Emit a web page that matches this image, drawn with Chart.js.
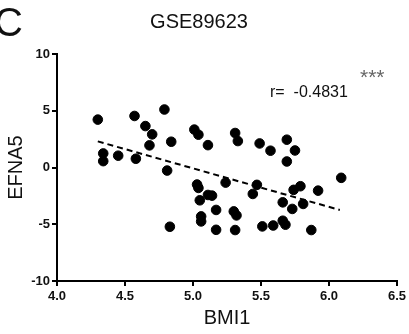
<!DOCTYPE html>
<html>
<head>
<meta charset="utf-8">
<script src="https://cdn.jsdelivr.net/npm/chart.js@4.4.0/dist/chart.umd.min.js"></script>
<style>
  html, body { margin: 0; padding: 0; background: #fff; }
  #wrap { width: 409px; height: 334px; }
</style>
</head>
<body>
<div id="wrap"><canvas id="chart" width="409" height="334"></canvas></div>
<script>
// ==========================
// Data
// ==========================
const bmi1 = [
  4.30, 4.57, 4.79, 4.65, 4.70, 4.84, 4.68, 4.34, 4.34, 4.45,
  4.58, 4.81, 4.83, 5.01, 5.04, 5.11, 5.31, 5.33, 5.49, 5.57,
  5.69, 5.75, 5.69, 6.09, 5.24, 5.47, 5.44, 5.03, 5.04, 5.05,
  5.11, 5.14, 5.17, 5.06, 5.06, 5.30, 5.32, 5.17, 5.31, 5.51,
  5.59, 5.66, 5.68, 5.66, 5.74, 5.79, 5.92, 5.73, 5.81, 5.87
];
const efna5 = [
  4.22, 4.54, 5.11, 3.65, 2.92, 2.27, 1.95, 1.24, 0.56, 1.04,
  0.77, -0.27, -5.22, 3.34, 2.89, 1.97, 3.04, 2.33, 2.12, 1.48,
  2.45, 1.50, 0.53, -0.91, -1.33, -1.53, -2.33, -1.50, -1.80, -2.89,
  -2.42, -2.48, -3.74, -4.31, -4.75, -3.87, -4.22, -5.49, -5.51, -5.19,
  -5.11, -4.69, -5.04, -3.07, -1.97, -1.65, -2.04, -3.65, -3.21, -5.51
];

// regression line end points
const fitX = [4.30, 6.08];
const fitY = [2.30, -3.74];

const yTicks = [-10, -5, 0, 5, 10];
const xTicks = [4.0, 4.5, 5.0, 5.5, 6.0, 6.5];

const points = bmi1.map((x, i) => ({ x: x, y: efna5[i] }));
const fitPoints = fitX.map((x, i) => ({ x: x, y: fitY[i] }));

// ==========================
// Extra text (panel letter, r value)
// ==========================
const extraText = {
  id: "extraText",
  afterDraw(chart) {
    const ctx = chart.ctx;
    ctx.save();
    ctx.fillStyle = "#111";
    ctx.textBaseline = "alphabetic";
    ctx.textAlign = "left";
    ctx.font = "40px 'Liberation Sans', Arial, sans-serif";
    ctx.fillText("C", -6, 36);
    ctx.font = "16px 'Liberation Sans', Arial, sans-serif";
    ctx.fillText("r=  -0.4831", 270, 97);
    ctx.fillStyle = "#666";
    ctx.font = "21px 'Liberation Sans', Arial, sans-serif";
    ctx.fillText("***", 360, 84);
    ctx.restore();
  }
};

const tickFont = { family: "'Liberation Sans', Arial, sans-serif", size: 13, weight: "bold" };
const titleFont = { family: "'Liberation Sans', Arial, sans-serif", size: 20 };

new Chart(document.getElementById("chart"), {
  type: "scatter",
  data: {
    datasets: [
      {
        label: "samples",
        data: points,
        backgroundColor: "#000",
        borderColor: "#000",
        pointRadius: 4.8,
        pointHoverRadius: 4.8
      },
      {
        type: "line",
        label: "fit",
        data: fitPoints,
        borderColor: "#000",
        borderWidth: 2,
        borderDash: [6, 4],
        pointRadius: 0,
        fill: false
      }
    ]
  },
  options: {
    responsive: false,
    animation: false,
    events: [],
    layout: { padding: { left: 0, right: 11, top: 0, bottom: 0 } },
    plugins: {
      legend: { display: false },
      tooltip: { enabled: false },
      title: {
        display: true,
        text: "GSE89623",
        color: "#111",
        font: { family: "'Liberation Sans', Arial, sans-serif", size: 20, weight: "normal" },
        padding: { top: 10, bottom: 20 }
      }
    },
    scales: {
      x: {
        type: "linear",
        min: 4,
        max: 6.5,
        afterBuildTicks: s => { s.ticks = xTicks.map(v => ({ value: v })); },
        afterFit: s => { s.height = 53; },
        border: { color: "#000", width: 2 },
        grid: { drawOnChartArea: false, drawTicks: true, tickLength: 5, color: "#000", lineWidth: 2 },
        ticks: {
          color: "#111",
          font: tickFont,
          padding: 3,
          maxRotation: 0,
          callback: v => Number(v).toFixed(1)
        },
        title: { display: true, text: "BMI1", color: "#111", font: titleFont, padding: { top: 0, bottom: 4 } }
      },
      y: {
        type: "linear",
        min: -10,
        max: 10,
        afterBuildTicks: s => { s.ticks = yTicks.map(v => ({ value: v })); },
        afterFit: s => { s.width = 57; },
        border: { color: "#000", width: 2 },
        grid: { drawOnChartArea: false, drawTicks: true, tickLength: 5, color: "#000", lineWidth: 2 },
        ticks: { color: "#111", font: tickFont, padding: 2 },
        title: { display: true, text: "EFNA5", color: "#111", font: titleFont, padding: { top: 4, bottom: 0 } }
      }
    }
  },
  plugins: [extraText]
});
</script>
</body>
</html>
